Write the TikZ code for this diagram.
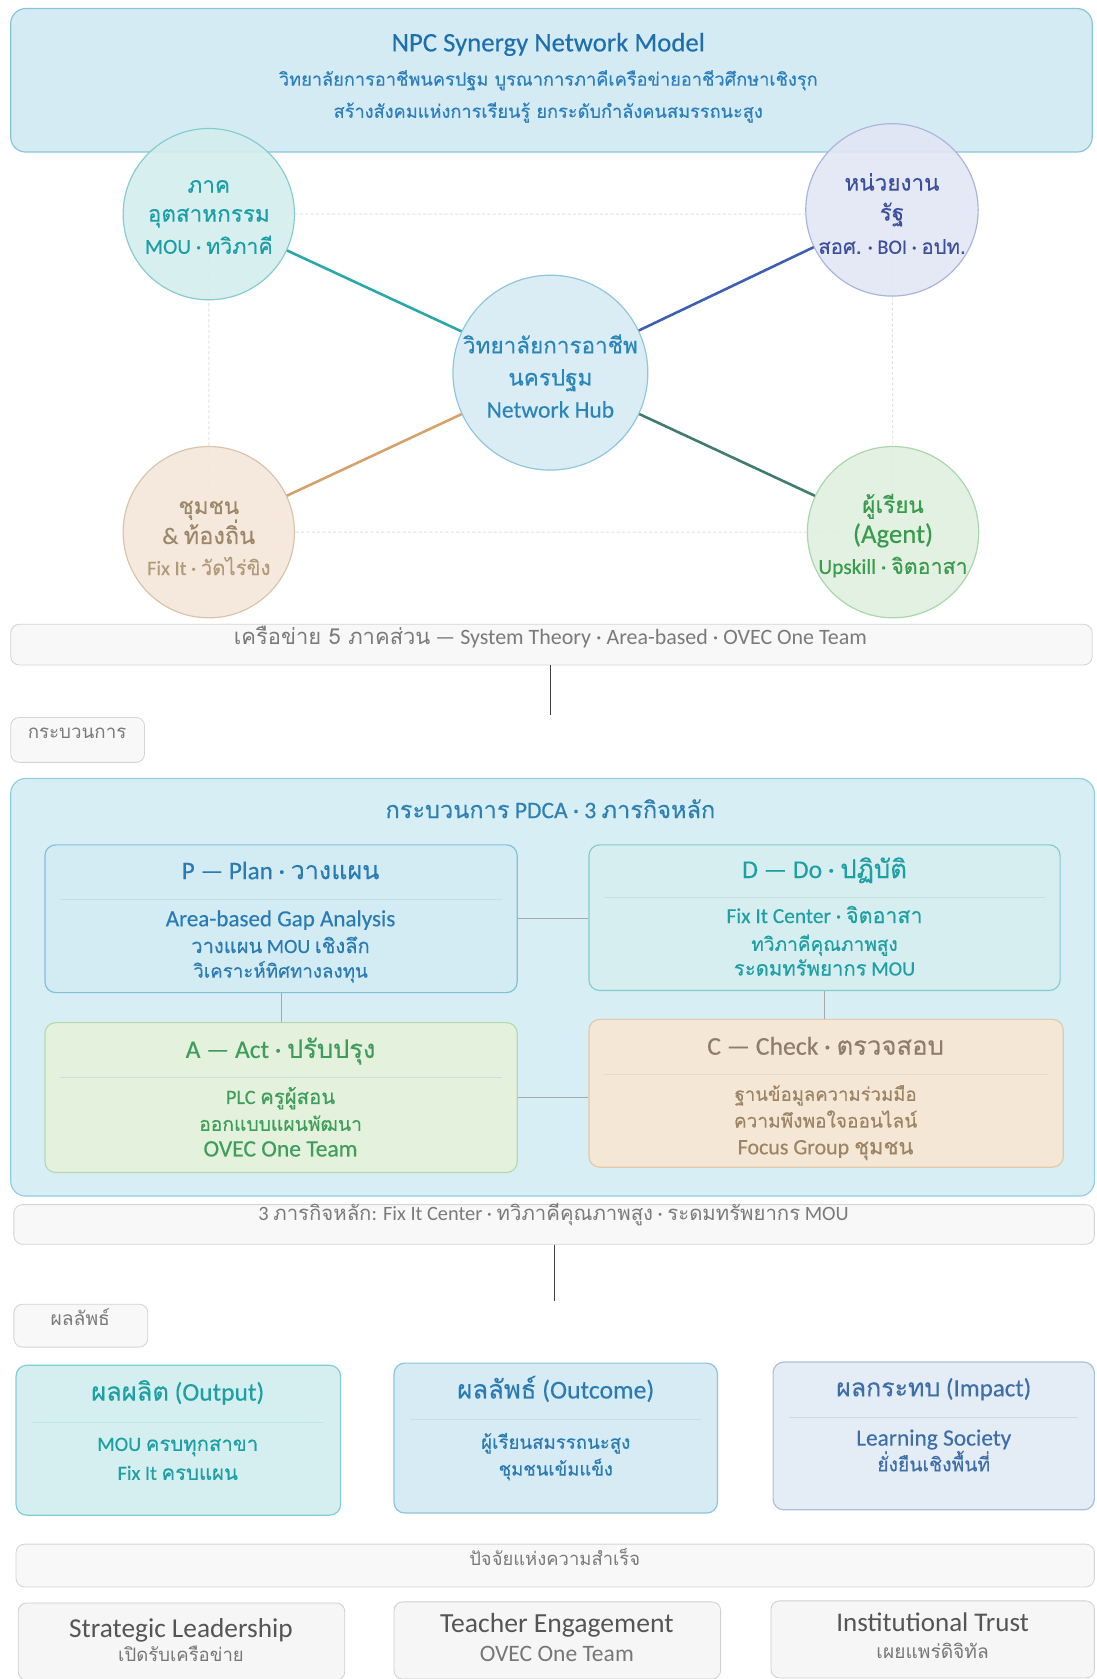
\documentclass[tikz,border=0pt]{standalone}
\usepackage{fontspec}
\setmainfont[FakeBold=0.35]{Carlito}
\newfontfamily\thaifont[Script=Thai,FakeBold=0.35]{Loma}
\newfontfamily\lightfont{Carlito}
\newfontfamily\lightthai[Script=Thai]{Loma}
\newcommand\T[1]{{\thaifont #1}}
\newcommand\TL[1]{{\lightthai #1}}
\newcommand\fs[1]{\fontsize{#1}{#1}\selectfont}
\definecolor{banfill}{HTML}{D5EBF3}
\definecolor{banline}{HTML}{86C5D8}
\definecolor{titcol}{HTML}{1D6FAE}
\definecolor{subcol}{HTML}{2C7FBF}
\definecolor{indfill}{HTML}{D3EEEE}
\definecolor{indline}{HTML}{86CCCC}
\definecolor{indtxt}{HTML}{1B9EA6}
\definecolor{govfill}{HTML}{E3E6F5}
\definecolor{govline}{HTML}{AAB4DC}
\definecolor{govtxt}{HTML}{3B4F9C}
\definecolor{hubfill}{HTML}{D6ECF4}
\definecolor{hubline}{HTML}{90C6DA}
\definecolor{hubtxt}{HTML}{2A85B8}
\definecolor{comfill}{HTML}{F3E7D9}
\definecolor{comline}{HTML}{D9C4AA}
\definecolor{comtxt}{HTML}{9C8868}
\definecolor{comsub}{HTML}{B09A7A}
\definecolor{lrnfill}{HTML}{DFF0DF}
\definecolor{lrnline}{HTML}{A9D6AB}
\definecolor{lrntxt}{HTML}{3A9A4E}
\definecolor{lnind}{HTML}{27A9A9}
\definecolor{lngov}{HTML}{3D5FB3}
\definecolor{lncom}{HTML}{D6A26C}
\definecolor{lnlrn}{HTML}{3F7C6C}
\definecolor{barfill}{HTML}{F8F8F8}
\definecolor{barline}{HTML}{D4D4D4}
\definecolor{bartxt}{HTML}{7A7A7A}
\definecolor{pnlfill}{HTML}{D8EEF5}
\definecolor{pnlline}{HTML}{8FCFE1}
\definecolor{pnltxt}{HTML}{2C80B3}
\definecolor{pfill}{HTML}{D3EBF3}
\definecolor{pline}{HTML}{7FC1D8}
\definecolor{ptxt}{HTML}{2A7BB3}
\definecolor{dfill}{HTML}{D6EEF0}
\definecolor{dline}{HTML}{7FCFCF}
\definecolor{dtxt}{HTML}{1D9FA3}
\definecolor{afill}{HTML}{E3F1DD}
\definecolor{aline}{HTML}{B5DAB0}
\definecolor{atxt}{HTML}{3F9D5C}
\definecolor{cfill}{HTML}{F5E7D5}
\definecolor{cline}{HTML}{E1C9A9}
\definecolor{ctit}{HTML}{8D7D6D}
\definecolor{ctxt}{HTML}{9C8464}
\definecolor{ofill}{HTML}{D5EFF0}
\definecolor{oline}{HTML}{7FCFD0}
\definecolor{otxt}{HTML}{1D9FA3}
\definecolor{ocfill}{HTML}{D6EBF4}
\definecolor{ocline}{HTML}{8BC5DC}
\definecolor{octxt}{HTML}{2A7BB3}
\definecolor{imfill}{HTML}{E4EDF5}
\definecolor{imline}{HTML}{A9BFD9}
\definecolor{imtxt}{HTML}{3D6EAA}
\definecolor{sfill}{HTML}{F6F6F6}
\definecolor{sline}{HTML}{D0D0D0}
\definecolor{stit}{HTML}{555555}
\definecolor{ssub}{HTML}{777777}
\definecolor{conn}{HTML}{A8A8A8}
\definecolor{sepcol}{HTML}{C8DDE4}
\definecolor{faintcol}{HTML}{E2E2E2}
\begin{document}
\begin{tikzpicture}[x=1pt,y=-1pt,
  txt/.style={anchor=base, inner sep=0pt, align=center},
  circ/.style={circle, draw, line width=1.1pt, inner sep=0pt, fill opacity=0.9, text opacity=1},
  box/.style={rectangle, rounded corners=10pt, draw, line width=1.1pt, inner sep=0pt},
  bar/.style={rectangle, rounded corners=8pt, draw=barline, fill=barfill, line width=0.8pt, inner sep=0pt},
  spoke/.style={line width=2.4pt},
  link/.style={draw=conn, line width=0.8pt},
  sep/.style={draw=sepcol, line width=0.8pt},
  faint/.style={draw=faintcol, line width=0.9pt, dash pattern=on 3pt off 2pt}
]
\useasboundingbox (0,0) rectangle (1024,1568);
\fill[white] (0,0) rectangle (1024,1568);

% ---------- banner ----------
\node[box, rounded corners=14pt, fill=banfill, draw=banline, minimum width=1010pt, minimum height=134pt] (ban) at (515,75) {};
\node[txt, text=titcol, font=\fs{25}] (bant) at (512,48) {NPC Synergy Network Model};
\node[txt, text=subcol, font=\fs{17}] (ban1) at (512,80) {\T{วิทยาลัยการอาชีพนครปฐม บูรณาการภาคีเครือข่ายอาชีวศึกษาเชิงรุก}};
\node[txt, text=subcol, font=\fs{17}] (ban2) at (512,110) {\T{สร้างสังคมแห่งการเรียนรู้ ยกระดับกำลังคนสมรรถนะสูง}};

% ---------- network ----------
\coordinate (kI) at (195,200);
\coordinate (kG) at (833,200);
\coordinate (kL) at (834,497);
\coordinate (kC) at (195,497);
\draw[faint] (kI) -- (kG) -- (kL) -- (kC) -- cycle;

\node[circ, fill=indfill, draw=indline, minimum size=160pt] (ind) at (195,200) {};
\node[circ, fill=govfill, draw=govline, minimum size=161pt] (gov) at (833,196) {};
\node[circ, fill=hubfill, draw=hubline, minimum size=182pt] (hub) at (514,348) {};
\node[circ, fill=comfill, draw=comline, minimum size=160pt] (com) at (195,497) {};
\node[circ, fill=lrnfill, draw=lrnline, minimum size=160pt] (lrn) at (834,497) {};

\draw[spoke, lnind] (hub) -- (ind);
\draw[spoke, lngov] (hub) -- (gov);
\draw[spoke, lncom] (hub) -- (com);
\draw[spoke, lnlrn] (hub) -- (lrn);

\node[txt, text=indtxt, font=\fs{21}] (ind1) at (195,180) {\T{ภาค}};
\node[txt, text=indtxt, font=\fs{21}] (ind2) at (195,207) {\T{อุตสาหกรรม}};
\node[txt, text=indtxt, font=\fs{20}] (ind3) at (195,237) {MOU · \T{ทวิภาคี}};

\node[txt, text=govtxt, font=\fs{21}] (gov1) at (833,178) {\T{หน่วยงาน}};
\node[txt, text=govtxt, font=\fs{21}] (gov2) at (833,206) {\T{รัฐ}};
\node[txt, text=govtxt, font=\fs{19}] (gov3) at (833,237) {\T{สอศ.} · BOI · \T{อปท.}};

\node[txt, text=hubtxt, font=\fs{21}] (hub1) at (514,330) {\T{วิทยาลัยการอาชีพ}};
\node[txt, text=hubtxt, font=\fs{21}] (hub2) at (514,360) {\T{นครปฐม}};
\node[txt, text=hubtxt, font=\fs{22}] (hub3) at (514,390) {Network Hub};

\node[txt, text=comtxt, font=\fs{21}] (com1) at (195,480) {\T{ชุมชน}};
\node[txt, text=comtxt, font=\fs{22}] (com2) at (195,508) {\& \T{ท้องถิ่น}};
\node[txt, text=comsub, font=\fs{19}] (com3) at (195,537) {Fix It · \T{วัดไร่ขิง}};

\node[txt, text=lrntxt, font=\fs{21}] (lrn1) at (834,479) {\T{ผู้เรียน}};
\node[txt, text=lrntxt, font=\fs{25}] (lrn2) at (834,507) {(Agent)};
\node[txt, text=lrntxt, font=\fs{20}] (lrn3) at (834,536) {Upskill · \T{จิตอาสา}};

% ---------- bar 1 ----------
\node[bar, minimum width=1010pt, minimum height=38pt] (bar1) at (515,602) {};
\node[txt, text=bartxt, font={\lightfont\fs{20.5}}] (bar1t) at (514,602) {\TL{เครือข่าย 5 ภาคส่วน} — System Theory · Area-based · OVEC One Team};
\coordinate (c1) at (514,668);
\draw[draw=black!75, line width=1pt] (bar1.south -| c1) -- (c1);

\node[bar, minimum width=125pt, minimum height=42pt] (lab1) at (72.5,691) {};
\node[txt, text=bartxt, font={\lightfont\fs{17.5}}] (lab1t) at (72,690) {\TL{กระบวนการ}};

% ---------- PDCA panel ----------
\node[box, rounded corners=14pt, fill=pnlfill, draw=pnlline, minimum width=1012pt, minimum height=390pt] (pnl) at (516,922) {};
\node[txt, text=pnltxt, font=\fs{22}] (pnlt) at (514,764) {\T{กระบวนการ} PDCA · 3 \T{ภารกิจหลัก}};

\node[box, fill=pfill, draw=pline, minimum width=441pt, minimum height=138pt] (P) at (262.5,858) {};
\node[box, fill=dfill, draw=dline, minimum width=440pt, minimum height=136pt] (D) at (770,857) {};
\node[box, fill=afill, draw=aline, minimum width=441pt, minimum height=140pt] (A) at (262.5,1025) {};
\node[box, fill=cfill, draw=cline, minimum width=443pt, minimum height=138pt] (C) at (771.5,1021) {};

\draw[link] (P.east) -- (P.east -| D.west);
\draw[link] (P.south) -- (A.north);
\draw[link] (D.south) -- (D.south |- C.north);
\draw[link] (A.east) -- (A.east -| C.west);

\draw[sep] (56,840) -- (469,840);
\draw[sep] (564,838) -- (976,838);
\draw[sep] (56,1006) -- (469,1006);
\draw[sep, draw=cline!70] (564,1003) -- (979,1003);

\node[txt, text=ptxt, font=\fs{23.5}] (Pt) at (262,821) {P — Plan · \T{วางแผน}};
\node[txt, text=ptxt, font=\fs{21.5}] (P1) at (262,865) {Area-based Gap Analysis};
\node[txt, text=ptxt, font=\fs{18.8}] (P2) at (262,890) {\T{วางแผน} MOU \T{เชิงลึก}};
\node[txt, text=ptxt, font=\fs{17.5}] (P3) at (262,913) {\T{วิเคราะห์ทิศทางลงทุน}};

\node[txt, text=dtxt, font=\fs{24}] (Dt) at (770,820) {D — Do · \T{ปฏิบัติ}};
\node[txt, text=dtxt, font=\fs{20}] (D1) at (770,862) {Fix It Center · \T{จิตอาสา}};
\node[txt, text=dtxt, font=\fs{17.8}] (D2) at (770,888) {\T{ทวิภาคีคุณภาพสูง}};
\node[txt, text=dtxt, font=\fs{19}] (D3) at (770,911) {\T{ระดมทรัพยากร} MOU};

\node[txt, text=atxt, font=\fs{23.8}] (At) at (262,988) {A — Act · \T{ปรับปรุง}};
\node[txt, text=atxt, font=\fs{19}] (A1) at (262,1031) {PLC \T{ครูผู้สอน}};
\node[txt, text=atxt, font=\fs{18}] (A2) at (262,1056) {\T{ออกแบบแผนพัฒนา}};
\node[txt, text=atxt, font=\fs{22}] (A3) at (262,1080) {OVEC One Team};

\node[txt, text=ctit, font=\fs{24}] (Ct) at (771,985) {C — Check · \T{ตรวจสอบ}};
\node[txt, text=ctxt, font=\fs{17.3}] (C1) at (771,1028) {\T{ฐานข้อมูลความร่วมมือ}};
\node[txt, text=ctxt, font=\fs{17.8}] (C2) at (771,1053) {\T{ความพึงพอใจออนไลน์}};
\node[txt, text=ctxt, font=\fs{20.5}] (C3) at (771,1078) {Focus Group \T{ชุมชน}};

% ---------- bar 2 ----------
\node[bar, minimum width=1009pt, minimum height=37pt] (bar2) at (517.5,1143.5) {};
\node[txt, text=bartxt, font={\lightfont\fs{19}}] (bar2t) at (517,1140) {3 \TL{ภารกิจหลัก}: Fix It Center · \TL{ทวิภาคีคุณภาพสูง} · \TL{ระดมทรัพยากร} MOU};
\coordinate (c2) at (518,1215);
\draw[draw=black!75, line width=1pt] (bar2.south -| c2) -- (c2);

\node[bar, minimum width=125pt, minimum height=40pt] (lab2) at (75.5,1238) {};
\node[txt, text=bartxt, font={\lightfont\fs{18}}] (lab2t) at (75,1238) {\TL{ผลลัพธ์}};

% ---------- outcome boxes ----------
\node[box, fill=ofill, draw=oline, minimum width=303pt, minimum height=140pt] (out) at (166.5,1345) {};
\node[box, fill=ocfill, draw=ocline, minimum width=302pt, minimum height=140pt] (ocm) at (519,1343) {};
\node[box, fill=imfill, draw=imline, minimum width=300pt, minimum height=138pt] (imp) at (872,1341) {};

\draw[sep, draw=oline!50] (30,1328) -- (303,1328);
\draw[sep] (383,1326) -- (655,1326);
\draw[sep, draw=imline!60] (737,1324) -- (1007,1324);

\node[txt, text=otxt, font=\fs{23.8}] (outt) at (166,1308) {\T{ผลผลิต} (Output)};
\node[txt, text=otxt, font=\fs{19}] (out1) at (166,1355) {MOU \T{ครบทุกสาขา}};
\node[txt, text=otxt, font=\fs{19}] (out2) at (166,1382) {Fix It \T{ครบแผน}};

\node[txt, text=octxt, font=\fs{24}] (ocmt) at (519,1306) {\T{ผลลัพธ์} (Outcome)};
\node[txt, text=octxt, font=\fs{17.4}] (ocm1) at (519,1353) {\T{ผู้เรียนสมรรถนะสูง}};
\node[txt, text=octxt, font=\fs{17.2}] (ocm2) at (519,1378) {\T{ชุมชนเข้มแข็ง}};

\node[txt, text=imtxt, font=\fs{23.3}] (impt) at (872,1304) {\T{ผลกระทบ} (Impact)};
\node[txt, text=imtxt, font=\fs{21.8}] (imp1) at (872,1350) {Learning Society};
\node[txt, text=imtxt, font=\fs{18}] (imp2) at (872,1374) {\T{ยั่งยืนเชิงพื้นที่}};

% ---------- bar 3 ----------
\node[bar, minimum width=1007pt, minimum height=40pt] (bar3) at (518.5,1462) {};
\node[txt, text=bartxt, font={\lightfont\fs{17.2}}] (bar3t) at (518,1462) {\TL{ปัจจัยแห่งความสำเร็จ}};

% ---------- success factors ----------
\node[bar, draw=sline, fill=sfill, minimum width=305pt, minimum height=72pt] (s1) at (169.5,1533) {};
\node[bar, draw=sline, fill=sfill, minimum width=305pt, minimum height=72pt] (s2) at (520.5,1532) {};
\node[bar, draw=sline, fill=sfill, minimum width=302pt, minimum height=72pt] (s3) at (871,1531) {};

\node[txt, text=stit, font={\lightfont\fs{25.5}}] (s1t) at (169,1529) {Strategic Leadership};
\node[txt, text=ssub, font={\lightfont\fs{17.3}}] (s1s) at (169,1552) {\TL{เปิดรับเครือข่าย}};
\node[txt, text=stit, font={\lightfont\fs{25.8}}] (s2t) at (520,1525) {Teacher Engagement};
\node[txt, text=ssub, font={\lightfont\fs{22}}] (s2s) at (520,1552) {OVEC One Team};
\node[txt, text=stit, font={\lightfont\fs{25.2}}] (s3t) at (871,1524) {Institutional Trust};
\node[txt, text=ssub, font={\lightfont\fs{17.9}}] (s3s) at (871,1549) {\TL{เผยแพร่ดิจิทัล}};
\end{tikzpicture}
\end{document}
